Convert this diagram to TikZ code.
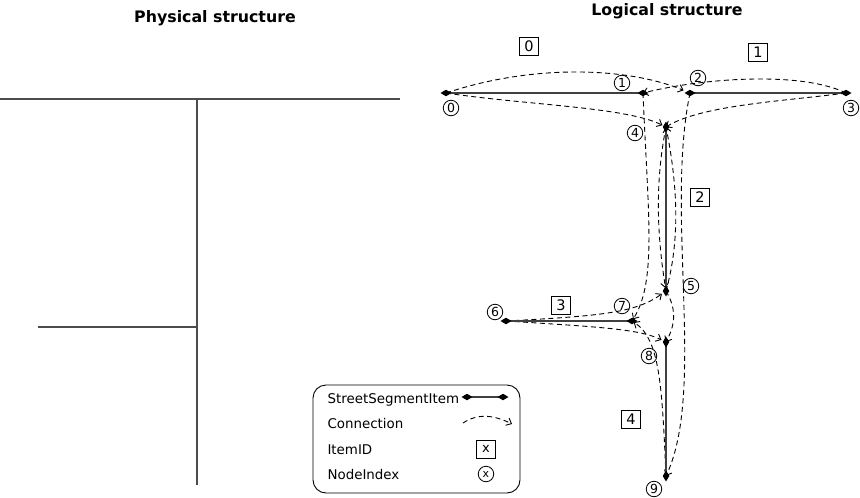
\documentclass[tikz,border=0pt]{standalone}
\usepackage{fontspec}
\setmainfont{DejaVu Sans}
\usetikzlibrary{arrows.meta, positioning}

\begin{document}
\begin{tikzpicture}[
  x=1pt, y=-1pt,
  title/.style={font=\bfseries\fontsize{15.8}{18}\selectfont, anchor=base},
  road/.style={draw=black!70, line width=1.3pt},
  segment/.style={draw=black!75, line width=1.3pt, {Diamond[length=11pt,width=6.5pt,black]}-{Diamond[length=11pt,width=6.5pt,black]}, shorten <=-5.5pt, shorten >=-5.5pt},
  conn/.style={draw, line width=0.9pt, dash pattern=on 5pt off 3.5pt, -{Straight Barb[length=4.5pt,width=8pt]}},
  itemid/.style={draw, line width=0.8pt, minimum width=19pt, minimum height=18pt, inner sep=0pt, font=\fontsize{14.5}{16}\selectfont},
  nodeidx/.style={draw, circle, line width=0.8pt, minimum size=15.5pt, inner sep=0pt, font=\fontsize{12.5}{14}\selectfont},
  legtext/.style={anchor=base west, font=\fontsize{13.4}{15}\selectfont}
]
\useasboundingbox (0,0) rectangle (860,498);

\node[title] (phys) at (215,22) {Physical structure};
\node[title] (logic) at (667,15) {Logical structure};

% physical streets
\draw[road] (0,99) -- (400,99);
\draw[road] (197,99) -- (197,485);
\draw[road] (38,327) -- (197,327);

% node positions
\coordinate (n0) at (446,93);
\coordinate (n1) at (643,93);
\coordinate (n2) at (690,93);
\coordinate (n3) at (846,93);
\coordinate (n4) at (666,127);
\coordinate (n5) at (666,291);
\coordinate (n6) at (506,321);
\coordinate (n7) at (632,321);
\coordinate (n8) at (666,342);
\coordinate (n9) at (666,476);

% connections
\draw[conn, shorten >=7pt] (n0) .. controls +(90,-30) and +(-60,-25) .. (n2);
\draw[conn, shorten >=4pt] (n0) .. controls +(80,12) and +(-40,-20) .. (n4);
\draw[conn] (n3) .. controls +(-45,-22) and +(60,-15) .. (n1);
\draw[conn] (n3) .. controls +(-60,8) and +(35,-22) .. (n4);
\draw[conn, shorten >=2pt] (n1) .. controls +(5,122) and +(25,-40) .. (n7);
\draw[conn] (n2) .. controls +(-25,120) and +(40,-85) .. (n9);
\draw[conn, shorten >=3pt] (n4) .. controls +(-12,60) and +(-8,-50) .. (n5);
\draw[conn] (n5) .. controls +(14,-50) and +(12,60) .. (n4);
\draw[conn, shorten >=5pt] (n6) .. controls +(94,-5) and +(-31,22) .. (n5);
\draw[conn, shorten >=5pt] (n6) .. controls +(94,6) and +(-27,-13) .. (n8);
\draw[conn] (n5) .. controls +(12,20) and +(8,-15) .. (n8);
\draw[conn, shorten >=2pt] (n9) .. controls +(-4,-90) and +(28,18) .. (n7);

% street segments
\draw[segment] (n0) -- (n1);
\draw[segment] (n2) -- (n3);
\draw[segment] (n4) -- (n5);
\draw[segment] (n6) -- (n7);
\draw[segment] (n8) -- (n9);

% item ids
\node[itemid] (s0) at (529,46) {0};
\node[itemid] (s1) at (758,52) {1};
\node[itemid] (s2) at (700,197) {2};
\node[itemid] (s3) at (561,305) {3};
\node[itemid] (s4) at (631,419) {4};

% node indices
\node[nodeidx] (i0) at (451,108) {0};
\node[nodeidx] (i1) at (622,83) {1};
\node[nodeidx] (i2) at (698,78) {2};
\node[nodeidx] (i3) at (851,108) {3};
\node[nodeidx] (i4) at (635,133) {4};
\node[nodeidx] (i5) at (691,286) {5};
\node[nodeidx] (i6) at (495,312) {6};
\node[nodeidx] (i7) at (622,306) {7};
\node[nodeidx] (i8) at (649,356) {8};
\node[nodeidx] (i9) at (654,489) {9};

% legend
\draw[line width=0.9pt, rounded corners=13pt] (313,385) rectangle (520,493);
\node[legtext] (lseg) at (324,403) {StreetSegmentItem};
\node[legtext] (lcon) at (324,428.5) {Connection};
\node[legtext] (lid) at (324,454) {ItemID};
\node[legtext] (lidx) at (324,479.5) {NodeIndex};
\coordinate (ls0) at (467,397);
\coordinate (ls1) at (503,397);
\draw[segment] (ls0) -- (ls1);
\coordinate (lc0) at (463,423);
\coordinate (lc1) at (512,424);
\draw[conn] (lc0) .. controls +(15,-10) and +(-18,-9) .. (lc1);
\node[itemid, font=\fontsize{13}{14}\selectfont] (lbox) at (486,449) {x};
\node[nodeidx, font=\fontsize{11}{12}\selectfont] (lcirc) at (486,474) {x};
\end{tikzpicture}
\end{document}
